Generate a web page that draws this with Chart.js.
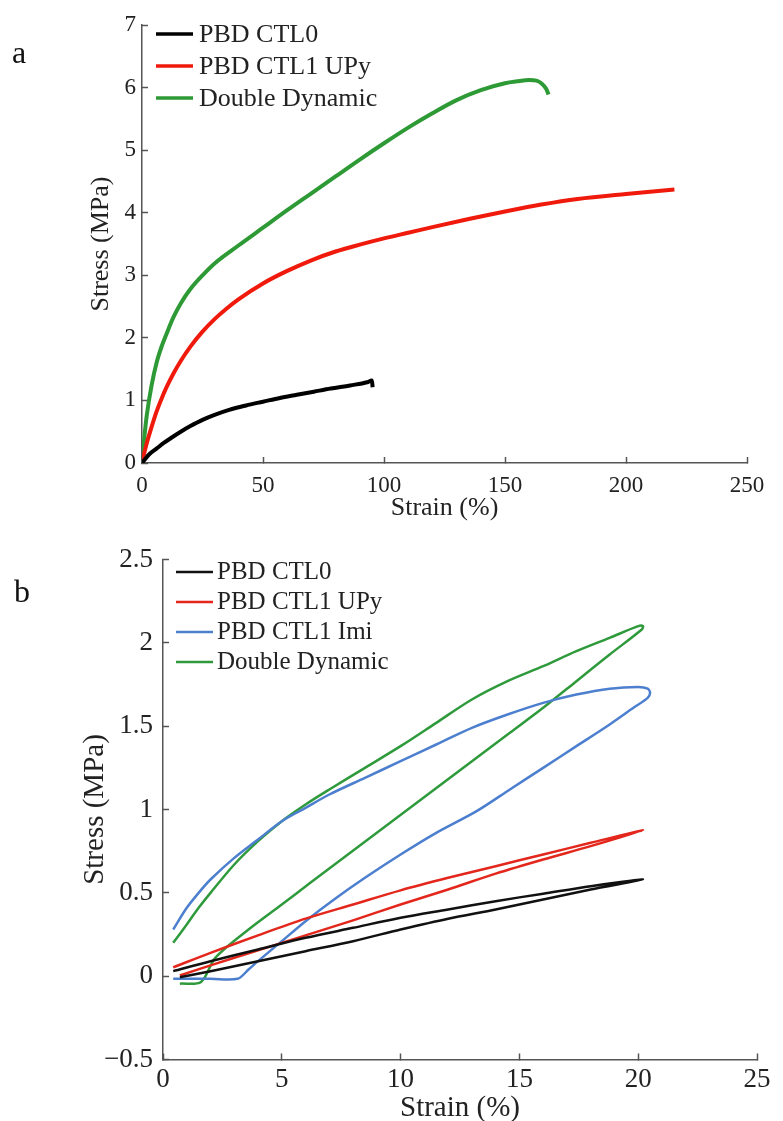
<!DOCTYPE html>
<html>
<head>
<meta charset="utf-8">
<script src="https://cdn.jsdelivr.net/npm/chart.js@4.4.0/dist/chart.umd.min.js"></script>
<style>
  html, body { margin: 0; padding: 0; background: #fff; overflow: hidden; }
  #wrap { position: relative; width: 783px; height: 1121px; }
  .panel { position: absolute; left: 0; width: 783px; }
  #boxA { top: 0; height: 530px; }
  #boxB { top: 530px; height: 600px; }
  .tag { position: absolute; font-family: "Liberation Serif", serif; font-size: 32px; line-height: 1; color: #111; }
</style>
</head>
<body>
<div id="wrap">
  <div class="panel" id="boxA"><canvas id="chartA"></canvas></div>
  <div class="panel" id="boxB"><canvas id="chartB"></canvas></div>
  <div class="tag" style="left:12px; top:36px">a</div>
  <div class="tag" style="left:14px; top:575px">b</div>
</div>
<script>
// panel a: tensile curves
var seriesA = ['PBD CTL0', 'PBD CTL1 UPy', 'Double Dynamic'];
var strainA_ctl0 = [0, 3, 6, 9, 12, 16, 20, 25, 30, 36, 43, 50, 57, 64, 71, 78, 86, 93, 95, 95.3];
var stressA_ctl0 = [0, 0.14, 0.23, 0.32, 0.40, 0.50, 0.59, 0.69, 0.77, 0.85, 0.92, 0.98, 1.04, 1.09, 1.14, 1.19, 1.24, 1.29, 1.32, 1.21];
var strainA_upy = [0, 1, 2, 4, 6, 8, 10, 13, 16, 20, 25, 30, 35, 40, 50, 60, 70, 80, 90, 100, 110, 120, 135, 150, 165, 180, 200, 220];
var stressA_upy = [0, 0.17, 0.32, 0.58, 0.82, 1.02, 1.2, 1.43, 1.63, 1.86, 2.1, 2.3, 2.47, 2.62, 2.87, 3.07, 3.24, 3.38, 3.49, 3.59, 3.68, 3.77, 3.9, 4.02, 4.13, 4.22, 4.3, 4.37];
var strainA_dd = [0, 1, 2, 4, 6, 8, 10, 13, 16, 20, 25, 30, 40, 50, 60, 70, 80, 90, 100, 110, 120, 130, 140, 150, 155, 160, 163, 165, 167, 168];
var stressA_dd = [0, 0.42, 0.77, 1.25, 1.6, 1.85, 2.05, 2.33, 2.55, 2.78, 3.0, 3.19, 3.48, 3.76, 4.04, 4.31, 4.58, 4.85, 5.11, 5.36, 5.59, 5.8, 5.96, 6.07, 6.1, 6.12, 6.11, 6.07, 5.98, 5.89];

// panel b: one loading/unloading cycle to 20 %
var seriesB = ['PBD CTL0', 'PBD CTL1 UPy', 'PBD CTL1 Imi', 'Double Dynamic'];
var strainB_ctl0 = [0.43, 2, 4, 6, 8, 10, 12, 14, 16, 18, 20.2, 18, 16, 14, 12, 10, 8, 6, 4, 2, 0.71];
var stressB_ctl0 = [0.03, 0.09, 0.16, 0.23, 0.29, 0.35, 0.40, 0.45, 0.495, 0.54, 0.58, 0.52, 0.46, 0.40, 0.345, 0.28, 0.21, 0.15, 0.09, 0.03, -0.006];
var strainB_upy = [0.43, 2, 4, 6, 8, 10, 12, 14, 16, 18, 20.2, 18, 16, 14, 12, 10, 8, 6, 4, 2, 0.71];
var stressB_upy = [0.053, 0.14, 0.245, 0.345, 0.43, 0.515, 0.59, 0.66, 0.73, 0.80, 0.875, 0.78, 0.70, 0.615, 0.52, 0.43, 0.335, 0.245, 0.155, 0.065, 0.004];
var strainB_imi = [0.43, 1, 1.5, 2, 3, 4, 5, 6, 7, 8.5, 10, 11.5, 13, 14.5, 16, 17.4, 18.8, 20, 20.4, 20.5, 20.4, 19.8, 18.8, 17.4, 16, 14.6, 13.2, 11.5, 10, 8.5, 7.2, 6, 5, 4, 3.6, 3.14, 2, 0.43];
var stressB_imi = [0.28, 0.41, 0.5, 0.58, 0.71, 0.82, 0.93, 1.01, 1.09, 1.19, 1.29, 1.39, 1.49, 1.57, 1.64, 1.69, 1.725, 1.735, 1.725, 1.7, 1.67, 1.61, 1.51, 1.38, 1.25, 1.12, 0.99, 0.86, 0.73, 0.59, 0.46, 0.33, 0.21, 0.09, 0.04, -0.016, -0.016, -0.016];
var strainB_dd = [0.43, 1, 1.5, 2, 3, 4, 5, 6, 7, 8.5, 10, 11.5, 13, 14.5, 16, 17.4, 18.8, 20, 20.2, 20.15, 18.8, 17.4, 16, 14.6, 13.2, 11.8, 10.4, 9, 7.6, 6.2, 5, 3.6, 2.2, 1.6, 0.71];
var stressB_dd = [0.2, 0.31, 0.41, 0.5, 0.67, 0.81, 0.93, 1.03, 1.12, 1.25, 1.38, 1.52, 1.66, 1.77, 1.86, 1.95, 2.03, 2.1, 2.1, 2.08, 1.93, 1.77, 1.61, 1.46, 1.31, 1.16, 1.01, 0.86, 0.71, 0.56, 0.43, 0.28, 0.11, -0.035, -0.045];

var serif = 'Liberation Serif, Times New Roman, serif';

function pts(xs, ys) {
  return xs.map(function(x, i) { return {x: x, y: ys[i]}; });
}

// short line + label rows in the top-left corner of the plot
var lineLegend = {
  id: 'lineLegend',
  afterDatasetsDraw: function(chart, args, o) {
    var ctx = chart.ctx;
    ctx.save();
    ctx.font = o.size + 'px ' + serif;
    ctx.textBaseline = 'middle';
    ctx.fillStyle = '#222';
    chart.data.datasets.forEach(function(ds, i) {
      var y = o.y + i * o.row;
      ctx.strokeStyle = ds.borderColor;
      ctx.lineWidth = o.lineWidth;
      ctx.beginPath();
      ctx.moveTo(o.x, y);
      ctx.lineTo(o.x + o.len, y);
      ctx.stroke();
      ctx.fillText(ds.label, o.x + o.len + o.gap, y + o.dy);
    });
    ctx.restore();
  }
};

function axis(opt) {
  return {
    type: 'linear',
    min: opt.min,
    max: opt.max,
    border: {color: '#555', width: 1.5},
    grid: {drawOnChartArea: false, tickLength: -6, tickWidth: 1.5, tickColor: '#555'},
    ticks: {
      stepSize: opt.step,
      padding: opt.pad,
      color: '#222',
      font: {family: serif, size: opt.tick, lineHeight: 1},
      callback: function(v) { return String(v).replace('-', '\u2212'); }
    },
    title: {display: true, text: opt.title, color: '#222', font: {family: serif, size: opt.titleSize}, padding: opt.titlePad},
    afterFit: opt.fit
  };
}

function line(label, data, color, w, t, mono) {
  return {label: label, data: data, borderColor: color, borderWidth: w, pointRadius: 0, tension: t,
    cubicInterpolationMode: mono ? 'monotone' : 'default', fill: false};
}

new Chart(document.getElementById('chartA'), {
  type: 'line',
  data: {
    datasets: [
      line(seriesA[0], pts(strainA_ctl0, stressA_ctl0), '#000000', 4, 0.4, true),
      line(seriesA[1], pts(strainA_upy, stressA_upy), '#f01a0c', 4, 0.4, true),
      line(seriesA[2], pts(strainA_dd, stressA_dd), '#2e9a35', 4, 0.4, true)
    ]
  },
  options: {
    responsive: true,
    maintainAspectRatio: false,
    animation: false,
    layout: {padding: {left: 0, top: 25, right: 36, bottom: 0}},
    plugins: {
      legend: {display: false},
      tooltip: {enabled: false},
      lineLegend: {x: 156, y: 34, row: 32, len: 37, gap: 6, dy: 1.5, size: 26, lineWidth: 3.5}
    },
    scales: {
      x: axis({min: 0, max: 250, step: 50, pad: 17, tick: 23, title: 'Strain (%)', titleSize: 26,
        titlePad: {top: 0, bottom: 6}, fit: function(s) { s.height = 67; }}),
      y: axis({min: 0, max: 7, step: 1, pad: 12, tick: 23, title: 'Stress (MPa)', titleSize: 26,
        titlePad: {top: 86, bottom: 0}, fit: function(s) { s.width = 142; }})
    }
  },
  plugins: [lineLegend]
});

new Chart(document.getElementById('chartB'), {
  type: 'line',
  data: {
    datasets: [
      line(seriesB[0], pts(strainB_ctl0, stressB_ctl0), '#111111', 2.5, 0.3, false),
      line(seriesB[1], pts(strainB_upy, stressB_upy), '#e3271c', 2.5, 0.3, false),
      line(seriesB[2], pts(strainB_imi, stressB_imi), '#4d7fcf', 2.5, 0.3, false),
      line(seriesB[3], pts(strainB_dd, stressB_dd), '#2f9a3c', 2.5, 0.3, false)
    ]
  },
  options: {
    responsive: true,
    maintainAspectRatio: false,
    animation: false,
    layout: {padding: {left: 0, top: 16.5, right: 20, bottom: 0}},
    plugins: {
      legend: {display: false},
      tooltip: {enabled: false},
      lineLegend: {x: 176, y: 42, row: 30, len: 37, gap: 4, dy: 0, size: 25, lineWidth: 2.5}
    },
    scales: {
      x: axis({min: 0, max: 25, step: 5, pad: 12.5, tick: 27, title: 'Strain (%)', titleSize: 29,
        titlePad: {top: 0, bottom: 4.6}, fit: function(s) { s.height = 70.5; }}),
      y: axis({min: -0.5, max: 2.5, step: 0.5, pad: 16, tick: 27, title: 'Stress (MPa)', titleSize: 29,
        titlePad: {top: 78, bottom: 0}, fit: function(s) { s.width = 163; }})
    }
  },
  plugins: [lineLegend]
});
</script>
</body>
</html>
